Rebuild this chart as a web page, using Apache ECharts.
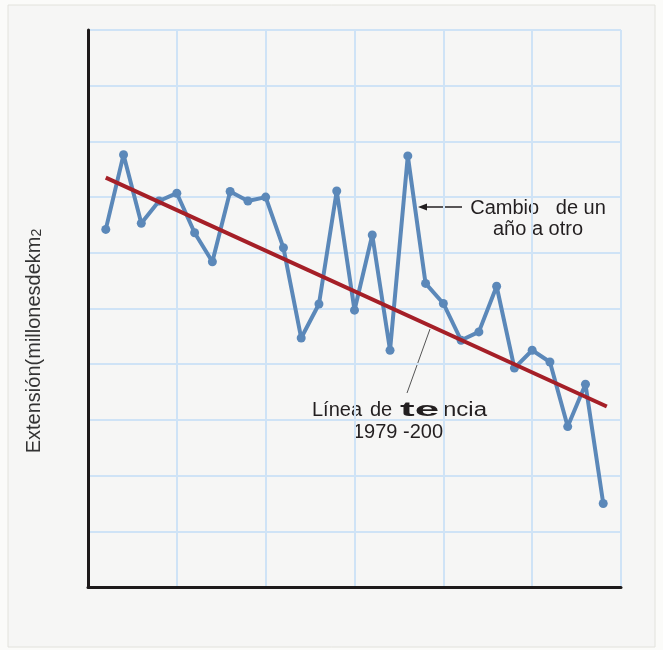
<!DOCTYPE html>
<html>
<head>
<meta charset="utf-8">
<script src="https://cdn.jsdelivr.net/npm/echarts@6/dist/echarts.min.js"></script>
<style>
    html, body { margin: 0; padding: 0; background: #fbfbf9; }
    #chartIce { width: 663px; height: 650px; }
</style>
</head>
<body>
<div id="chartIce"></div>
<script>
// años 1979-2007 y extensión (unidades de cuadrícula, sin etiquetas)
var baseYear = 1978;
var years = [1979, 1980, 1981, 1982, 1983, 1984, 1985, 1986, 1987, 1988,
             1989, 1990, 1991, 1992, 1993, 1994, 1995, 1996, 1997, 1998,
             1999, 2000, 2001, 2002, 2003, 2004, 2005, 2006, 2007];
var extent = [6.42, 7.76, 6.53, 6.93, 7.07, 6.36, 5.84, 7.10, 6.93, 7.00,
              6.09, 4.47, 5.08, 7.11, 4.97, 6.32, 4.25, 7.74, 5.45, 5.09,
              4.43, 4.58, 5.40, 3.93, 4.25, 4.04, 2.88, 3.64, 1.50];
var trendYears = [1979, 2007.2];
var trendValues = [7.35, 3.24];

var yearData = [];
for (var i = 0, l = years.length; i < l; i++) {
    yearData.push([years[i] - baseYear, extent[i]]);
}
var trendData = [];
for (var j = 0; j < trendYears.length; j++) {
    trendData.push([trendYears[j] - baseYear, trendValues[j]]);
}

var gridBlue = '#cfe3f6';
var txt = '#231f20';
var font = 'Liberation Sans, Arial, sans-serif';

var myChart = echarts.init(document.getElementById('chartIce'));
myChart.setOption(option = {
    backgroundColor: '#fbfbf9',
    animation: false,
    grid: {
        left: 88,
        right: 42,
        top: 30,
        bottom: 63
    },
    xAxis: {
        type: 'value',
        min: 0,
        max: 30,
        interval: 5,
        axisLine: { show: true, onZero: false, lineStyle: { color: '#1d1a1a', width: 3 } },
        axisTick: { show: false },
        axisLabel: { show: false },
        splitLine: { show: true, lineStyle: { color: gridBlue, width: 2 } }
    },
    yAxis: {
        type: 'value',
        min: 0,
        max: 10,
        interval: 1,
        axisLine: { show: true, onZero: false, lineStyle: { color: '#1d1a1a', width: 3 } },
        axisTick: { show: false },
        axisLabel: { show: false },
        splitLine: { show: true, lineStyle: { color: gridBlue, width: 2 } }
    },
    series: [
        {
            name: 'Cambio de un año a otro',
            type: 'line',
            data: yearData,
            symbol: 'circle',
            symbolSize: 9,
            lineStyle: { color: '#5b88b9', width: 4 },
            itemStyle: { color: '#5b88b9' },
            z: 3
        },
        {
            name: 'Línea de tendencia',
            type: 'line',
            data: trendData,
            symbol: 'none',
            lineStyle: { color: '#a51f27', width: 4 },
            z: 4
        }
    ],
    graphic: [
        {
            type: 'rect',
            z: -10,
            shape: { x: 8, y: 5, width: 647, height: 642 },
            style: { fill: '#f6f6f5', stroke: '#e2e2dc', lineWidth: 1 }
        },
        {
            type: 'text',
            x: 34,
            y: 341,
            rotation: Math.PI / 2,
            style: {
                text: '{a|Extensión(millonesdekm}{b|2}',
                align: 'center',
                verticalAlign: 'middle',
                rich: {
                    a: { fontSize: 20, fontFamily: font, fill: '#333' },
                    b: { fontSize: 14, fontFamily: font, fill: '#333', padding: [6, 0, 0, 0] }
                }
            }
        },
        // flecha "Cambio de un año a otro"
        {
            type: 'line',
            shape: { x1: 426, y1: 207, x2: 462, y2: 207 },
            style: { stroke: txt, lineWidth: 1.5 }
        },
        {
            type: 'polygon',
            shape: { points: [[418, 207], [427, 203.5], [427, 210.5]] },
            style: { fill: txt }
        },
        {
            type: 'text',
            x: 538,
            y: 208,
            style: { text: 'Cambio   de un', align: 'center', verticalAlign: 'middle', fontSize: 20, fontFamily: font, fill: txt }
        },
        {
            type: 'text',
            x: 538,
            y: 229,
            style: { text: 'año a otro', align: 'center', verticalAlign: 'middle', fontSize: 20, fontFamily: font, fill: txt }
        },
        // línea guía hacia la tendencia
        {
            type: 'line',
            shape: { x1: 430, y1: 329, x2: 407, y2: 393 },
            style: { stroke: '#555', lineWidth: 1 }
        },
        {
            type: 'text',
            x: 312,
            y: 410,
            style: { text: 'Línea', align: 'left', verticalAlign: 'middle', fontSize: 20, fontFamily: font, fill: txt }
        },
        {
            type: 'text',
            x: 370,
            y: 410,
            style: { text: 'de', align: 'left', verticalAlign: 'middle', fontSize: 20, fontFamily: font, fill: txt }
        },
        {
            type: 'text',
            x: 400,
            y: 410,
            scaleX: 2.2,
            style: { text: 'te', align: 'left', verticalAlign: 'middle', fontSize: 20, fontWeight: 'bold', fontFamily: font, fill: txt }
        },
        {
            type: 'text',
            x: 443,
            y: 410,
            scaleX: 1.2,
            style: { text: 'ncia', align: 'left', verticalAlign: 'middle', fontSize: 20, fontFamily: font, fill: txt }
        },
        {
            type: 'text',
            x: 353,
            y: 432,
            style: { text: '1979 -200', align: 'left', verticalAlign: 'middle', fontSize: 20, fontFamily: font, fill: txt }
        }
    ]
});
</script>
</body>
</html>
